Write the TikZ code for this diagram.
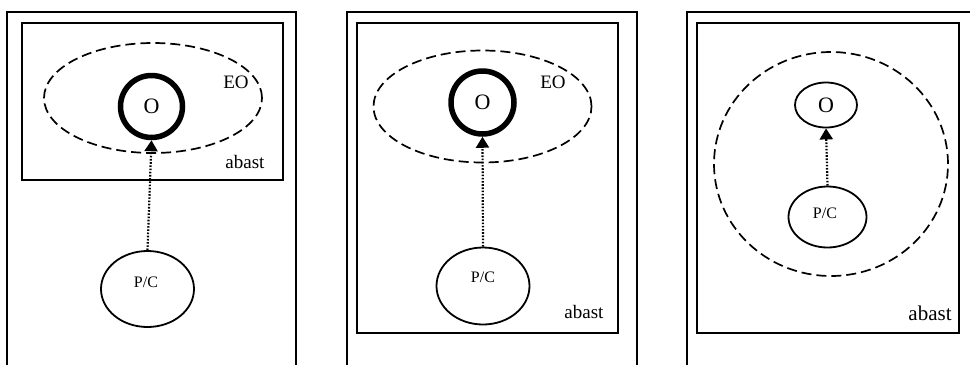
\documentclass[tikz,border=0pt]{standalone}
\usepackage{fontspec}
\setmainfont{Liberation Serif}
\usetikzlibrary{shapes.geometric,arrows.meta}
\tikzset{
  frame/.style={line width=2.2pt},
  scopebox/.style={draw,line width=2pt,inner sep=0pt},
  zone/.style={draw,ellipse,dashed,dash pattern=on 10pt off 5pt,line width=1.7pt,inner sep=0pt},
  objthick/.style={draw,circle,line width=5.5pt,inner sep=0pt,font=\fontsize{22}{24}\selectfont},
  objthin/.style={draw,ellipse,line width=1.8pt,inner sep=0pt,font=\fontsize{22}{24}\selectfont},
  pcnode/.style={draw,ellipse,line width=1.8pt,inner sep=0pt},
  pctext/.style={font=\fontsize{16}{18}\selectfont,inner sep=0pt},
  lbl/.style={font=\fontsize{19}{21}\selectfont,inner sep=0pt},
  link/.style={line width=2.2pt,dash pattern=on 1.6pt off 1.6pt,-{Triangle[width=13pt,length=11pt]}}
}
\begin{document}
\begin{tikzpicture}[x=1pt,y=-1pt]
\useasboundingbox (0,0) rectangle (970,365);
% left frame
\coordinate (f1a) at (7,365); \coordinate (f1b) at (7,12);
\coordinate (f1c) at (296,12); \coordinate (f1d) at (296,365);
\draw[frame] (f1a) -- (f1b) -- (f1c) -- (f1d);
\node[scopebox,minimum width=261pt,minimum height=157pt] (s1) at (152.5,101.5) {};
\node[zone,minimum width=218pt,minimum height=110pt] (z1) at (153,98) {};
\node[objthick,minimum size=62pt] (o1) at (151.5,106.5) {O};
\node[lbl] (eo1) at (236,82) {EO};
\node[lbl] (ab1) at (245,162) {abast};
\node[pcnode,minimum width=93pt,minimum height=76pt] (pc1) at (147.5,289) {};
\node[pctext] (pct1) at (146,282) {P/C};
\draw[link] (pc1.north) -- (o1.south);

% middle frame
\coordinate (f2a) at (347,365); \coordinate (f2b) at (347,12);
\coordinate (f2c) at (637,12); \coordinate (f2d) at (637,365);
\draw[frame] (f2a) -- (f2b) -- (f2c) -- (f2d);
\node[scopebox,minimum width=261pt,minimum height=310pt] (s2) at (487.5,178) {};
\node[zone,minimum width=218pt,minimum height=112pt] (z2) at (482.5,106.5) {};
\node[objthick,minimum size=63pt] (o2) at (482.5,102.5) {O};
\node[lbl] (eo2) at (553,82) {EO};
\node[lbl] (ab2) at (584,312) {abast};
\node[pcnode,minimum width=93pt,minimum height=77pt] (pc2) at (483,286) {};
\node[pctext] (pct2) at (483,277) {P/C};
\draw[link] (pc2.north) -- (o2.south);

% right frame
\coordinate (f3a) at (687,365); \coordinate (f3b) at (687,12);
\coordinate (f3c) at (970,12);
\draw[frame] (f3a) -- (f3b) -- (f3c);
\node[scopebox,minimum width=262pt,minimum height=310pt] (s3) at (828,178) {};
\node[zone,minimum width=234pt,minimum height=224pt] (z3) at (831,164) {};
\node[objthin,minimum width=62pt,minimum height=45pt] (o3) at (826,105) {O};
\node[lbl,font=\fontsize{21}{23}\selectfont] (ab3) at (930,313) {abast};
\node[pcnode,minimum width=78pt,minimum height=61pt] (pc3) at (827.5,217) {};
\node[pctext] (pct3) at (825,213) {P/C};
\draw[link] (pc3.north) -- (o3.south);
\end{tikzpicture}
\end{document}
